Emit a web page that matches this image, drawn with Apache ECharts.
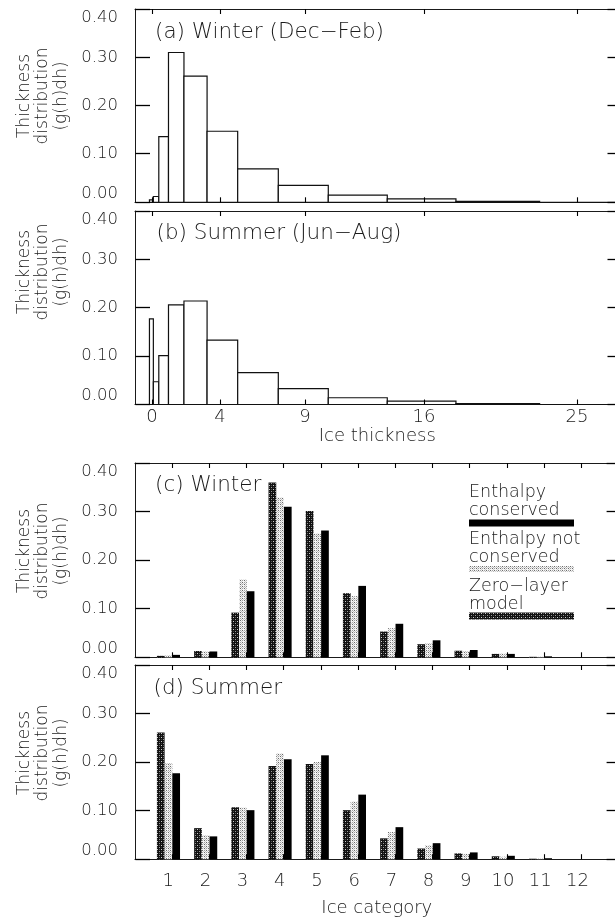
<!DOCTYPE html>
<html><head><meta charset="utf-8">
<script src="https://cdn.jsdelivr.net/npm/echarts@6/dist/echarts.min.js"></script>
<style>html,body{margin:0;padding:0;background:#fff}#c{width:615px;height:919px}</style>
</head><body><div id="c"></div>
<script>
// ---------------- data ----------------
const categories = ['1','2','3','4','5','6','7','8','9','10','11','12'];
const categoryIndex = [1,2,3,4,5,6,7,8,9,10,11,12];
// ice thickness bounds of each category (as drawn in panels a, b)
const binLower = [-0.15, 0.08, 0.40, 0.97, 1.88, 3.24, 5.04, 7.43, 10.37, 13.84, 17.88, 22.8];
const binUpper = [0.08, 0.40, 0.97, 1.88, 3.24, 5.04, 7.43, 10.37, 13.84, 17.88, 22.8, 28.0];
// Winter
const winterConserved    = [0.005, 0.012, 0.136, 0.310, 0.261, 0.147, 0.069, 0.035, 0.015, 0.007, 0.002, 0.000];
const winterNotConserved = [0.004, 0.012, 0.160, 0.329, 0.255, 0.126, 0.060, 0.029, 0.013, 0.008, 0.001, 0.000];
const winterZeroLayer    = [0.003, 0.013, 0.092, 0.360, 0.301, 0.132, 0.053, 0.027, 0.0135, 0.007, 0.001, 0.000];
// Summer
const summerConserved    = [0.177, 0.047, 0.101, 0.206, 0.214, 0.133, 0.066, 0.033, 0.014, 0.007, 0.002, 0.000];
const summerNotConserved = [0.198, 0.049, 0.106, 0.218, 0.200, 0.119, 0.056, 0.029, 0.011, 0.005, 0.001, 0.000];
const summerZeroLayer    = [0.261, 0.064, 0.107, 0.192, 0.196, 0.101, 0.043, 0.022, 0.012, 0.006, 0.001, 0.000];
// tick labels
const thicknessTicks = [0, 4, 9, 16, 25];
const categoryTicks = [1,2,3,4,5,6,7,8,9,10,11,12];
const yTickValues = [0.00, 0.10, 0.20, 0.30, 0.40];
const panelTitles = ['(a) Winter (Dec\u2212Feb)', '(b) Summer (Jun\u2212Aug)', '(c) Winter', '(d) Summer'];
const yTitle = 'Thickness\ndistribution\n(g(h)dh)';
const legendNames = ['Enthalpy\nconserved', 'Enthalpy not\nconserved', 'Zero\u2212layer\nmodel'];

// ---------------- styles ----------------
const FONT = 'DejaVu Sans';
const FW = 200;
const INK = '#1a1a1a';
function makePattern(bg, dots) {
  const c = document.createElement('canvas'); c.width = 4; c.height = 4;
  const g = c.getContext('2d'); g.fillStyle = bg; g.fillRect(0, 0, 4, 4);
  dots.forEach(d => { g.fillStyle = d[2]; g.fillRect(d[0], d[1], 1, 1); });
  return c;
}
const darkFill = {image: makePattern('#111', [[1,1,'#cfcfcf'],[3,3,'#9a9a9a'],[3,1,'#555'],[1,3,'#444']]), repeat: 'repeat'};
const lightFill = {image: makePattern('#f4f4f4', [[0,0,'#6a6a6a'],[2,2,'#6a6a6a'],[2,0,'#a0a0a0'],[0,2,'#a0a0a0'],[1,1,'#d0d0d0'],[3,3,'#d0d0d0'],[1,3,'#bbb']]), repeat: 'repeat'};
const blackFill = '#000';

const grids = [
  {left: 135, top: 9,   width: 484.5, height: 193.3},
  {left: 135, top: 211, width: 484.5, height: 193.5},
  {left: 135, top: 463, width: 483.6, height: 194.3},
  {left: 135, top: 665, width: 483.6, height: 194.2}
].map(g => Object.assign({show: false, containLabel: false, outerBoundsMode: 'none'}, g));
const xRange = [[-1, 27.5], [-1, 27.5], [0, 13], [0, 13]];

const lineStyle = {color: INK, width: 1};
const xAxes = [];
const yAxes = [];
for (let gi = 0; gi < 4; gi++) {
  const isThick = gi < 2;
  const showLabels = gi === 1 || gi === 3;
  const mk = (pos) => {
    const ax = {type: 'value', min: xRange[gi][0], max: xRange[gi][1], gridIndex: gi, position: pos,
      axisTick: {show: false},
      axisLabel: {show: false, customValues: isThick ? thicknessTicks : categoryTicks},
      axisLine: {show: true, onZero: false, lineStyle: lineStyle},
      splitLine: {show: false}};
    if (!isThick) ax.interval = 1;
    return ax;
  };
  const bottom = mk('bottom');
  if (showLabels) {
    Object.assign(bottom.axisLabel, {show: true, fontFamily: FONT, fontWeight: FW, fontSize: 18, color: INK});
    if (isThick) {
      bottom.axisLabel.margin = 4;
      bottom.name = 'Ice thickness'; bottom.nameGap = 23;
    } else {
      bottom.axisLabel.margin = 13;
      bottom.axisLabel.padding = [0, 8, 0, 0];
      bottom.axisLabel.formatter = v => categories[v - 1];
      bottom.name = 'Ice category'; bottom.nameGap = 40;
    }
    bottom.nameLocation = 'middle';
    bottom.nameTextStyle = {fontFamily: FONT, fontWeight: FW, fontSize: 18, color: INK};
  }
  const top = mk('top');
  top.axisLabel = {show: false};
  xAxes.push(bottom, top);

  yAxes.push({
    type: 'value', gridIndex: gi, position: 'left', min: 0, max: 0.4, interval: 0.1,
    axisLine: {show: true, onZero: false, lineStyle: lineStyle}, splitLine: {show: false},
    axisTick: {show: false},
    axisLabel: {show: true, fontFamily: FONT, fontWeight: FW, fontSize: 16.5, color: INK, margin: 17,
      formatter: v => v.toFixed(2), verticalAlignMinLabel: 'bottom', verticalAlignMaxLabel: 'top'}
  });
  yAxes.push({
    type: 'value', gridIndex: gi, position: 'right', min: 0, max: 0.4, interval: 0.1,
    axisLine: {show: true, onZero: false, lineStyle: lineStyle}, splitLine: {show: false},
    axisTick: {show: false}, axisLabel: {show: false}
  });
}

// ---------- renderers ----------
function histRender(params, api) {
  const lo = api.value(0), hi = api.value(1), v = api.value(2);
  const p0 = api.coord([lo, 0]);
  const p1 = api.coord([hi, v]);
  return {type: 'rect',
    shape: {x: p0[0], y: p1[1], width: p1[0] - p0[0], height: p0[1] - p1[1]},
    style: {fill: '#fff', stroke: '#111', lineWidth: 1.2}};
}
const BAR_WIDTH = 0.207;   // in category units
const GROUP_SHIFT = -0.1;  // group centre offset from tick
function barRender(slot, fill) {
  return function (params, api) {
    const c = api.value(0), v = api.value(1);
    const w = api.size([BAR_WIDTH, 0])[0];
    const b = api.coord([c + GROUP_SHIFT, 0]);
    const t = api.coord([c + GROUP_SHIFT, v]);
    return {type: 'rect',
      shape: {x: b[0] + (slot - 1.5) * w, y: t[1], width: w, height: b[1] - t[1]},
      style: {fill: fill}};
  };
}
const crisp = v => Math.round(v - 0.5) + 0.5;
function yTickRender(gi) {
  return function (params, api) {
    const v = api.value(1);
    const l = api.coord([xRange[gi][0], v]);
    const r = api.coord([xRange[gi][1], v]);
    const yl = crisp(l[1]);
    return {type: 'group', children: [
      {type: 'line', shape: {x1: l[0] + 0.5, y1: yl, x2: l[0] + 15, y2: yl}, style: {stroke: '#000', lineWidth: 1.3}},
      {type: 'line', shape: {x1: r[0] - 12, y1: yl, x2: r[0], y2: yl}, style: {stroke: '#000', lineWidth: 1.3}}
    ]};
  };
}
function xTickRender() {
  return function (params, api) {
    const v = api.value(0);
    const b = api.coord([v, 0]);
    const t = api.coord([v, 0.4]);
    const x = crisp(b[0]);
    return {type: 'group', children: [
      {type: 'line', shape: {x1: x, y1: b[1], x2: x, y2: b[1] - 5}, style: {stroke: '#000', lineWidth: 1.1}},
      {type: 'line', shape: {x1: x, y1: t[1], x2: x, y2: t[1] + 5}, style: {stroke: '#000', lineWidth: 1.1}}
    ]};
  };
}
function histData(vals) { return categoryIndex.map((c, i) => [binLower[i], binUpper[i], vals[i]]); }
function barData(vals) { return categoryIndex.map((c, i) => [c, vals[i]]); }

const series = [
  {type: 'custom', xAxisIndex: 0, yAxisIndex: 0, renderItem: histRender, encode: {x: [0, 1], y: 2}, data: histData(winterConserved)},
  {type: 'custom', xAxisIndex: 2, yAxisIndex: 2, renderItem: histRender, encode: {x: [0, 1], y: 2}, data: histData(summerConserved)},
  {type: 'custom', name: legendNames[2], xAxisIndex: 4, yAxisIndex: 4, renderItem: barRender(0, darkFill), encode: {x: 0, y: 1}, data: barData(winterZeroLayer)},
  {type: 'custom', name: legendNames[1], xAxisIndex: 4, yAxisIndex: 4, renderItem: barRender(1, lightFill), encode: {x: 0, y: 1}, data: barData(winterNotConserved)},
  {type: 'custom', name: legendNames[0], xAxisIndex: 4, yAxisIndex: 4, renderItem: barRender(2, blackFill), encode: {x: 0, y: 1}, data: barData(winterConserved)},
  {type: 'custom', name: legendNames[2], xAxisIndex: 6, yAxisIndex: 6, renderItem: barRender(0, darkFill), encode: {x: 0, y: 1}, data: barData(summerZeroLayer)},
  {type: 'custom', name: legendNames[1], xAxisIndex: 6, yAxisIndex: 6, renderItem: barRender(1, lightFill), encode: {x: 0, y: 1}, data: barData(summerNotConserved)},
  {type: 'custom', name: legendNames[0], xAxisIndex: 6, yAxisIndex: 6, renderItem: barRender(2, blackFill), encode: {x: 0, y: 1}, data: barData(summerConserved)}
];
// axis tick marks (inside, on all four sides), drawn through each panel's scales
for (let gi = 0; gi < 4; gi++) {
  series.push({type: 'custom', xAxisIndex: gi * 2, yAxisIndex: gi * 2, silent: true, z: 50, zlevel: 1, clip: false,
    renderItem: yTickRender(gi), encode: {x: 0, y: 1},
    data: yTickValues.map(v => [xRange[gi][0], v])});
  series.push({type: 'custom', xAxisIndex: gi * 2, yAxisIndex: gi * 2, silent: true, z: 50, zlevel: 1, clip: false,
    renderItem: xTickRender(), encode: {x: 0, y: 1},
    data: (gi < 2 ? thicknessTicks : categoryTicks).map(v => [v, 0])});
}

// ---------------- text & legend ----------------
const titlePos = [[155, 32.5], [156.5, 233.5], [155, 485], [153.5, 688.5]];
const yTitleCentre = [96, 272, 551, 753];
const graphics = [];
panelTitles.forEach((t, i) => graphics.push({type: 'text', x: titlePos[i][0], y: titlePos[i][1], silent: true,
  style: {text: t, fontFamily: FONT, fontWeight: FW, fontSize: 21.5, fill: INK, textAlign: 'left', textVerticalAlign: 'middle'}}));
yTitleCentre.forEach(cy => graphics.push({type: 'text', x: 43, y: cy, rotation: Math.PI / 2, silent: true,
  style: {text: yTitle, fontFamily: FONT, fontWeight: FW, fontSize: 17, lineHeight: 18.5, fill: INK, textAlign: 'center', textVerticalAlign: 'middle'}}));
const legendTextY = [501, 548.5, 595.5];
const legendSwatch = [[519.5, 7, blackFill], [566, 6, lightFill], [612.5, 7, darkFill]];
legendNames.forEach((n, i) => {
  graphics.push({type: 'text', x: 469, y: legendTextY[i], silent: true,
    style: {text: n, fontFamily: FONT, fontWeight: FW, fontSize: 17.5, lineHeight: 18, fill: INK, textAlign: 'left', textVerticalAlign: 'middle'}});
  graphics.push({type: 'rect', shape: {x: 469, y: legendSwatch[i][0], width: 105, height: legendSwatch[i][1]}, silent: true,
    style: {fill: legendSwatch[i][2]}});
});

const chart = echarts.init(document.getElementById('c'), null, {renderer: 'canvas'});
chart.setOption({
  animation: false,
  backgroundColor: '#fff',
  grid: grids,
  xAxis: xAxes,
  yAxis: yAxes,
  series: series,
  graphic: graphics
});
</script>
</body></html>
